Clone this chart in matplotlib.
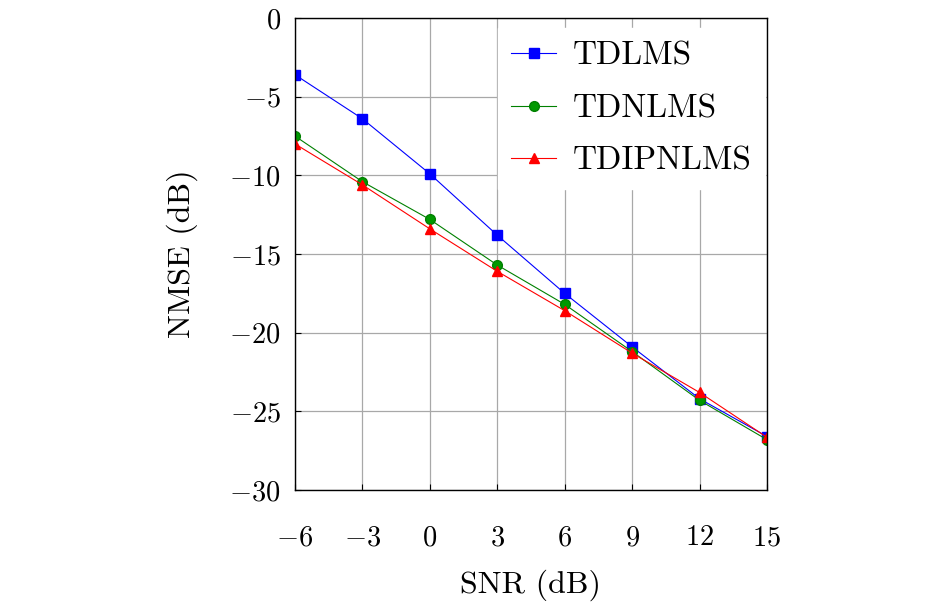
import matplotlib
matplotlib.use("Agg")
import matplotlib.pyplot as plt

snr = [-6, -3, 0, 3, 6, 9, 12, 15]
tdlms = [-3.6, -6.4, -9.9, -13.8, -17.5, -20.9, -24.2, -26.6]
tdnlms = [-7.5, -10.4, -12.8, -15.7, -18.2, -21.2, -24.3, -26.8]
tdipnlms = [-8.0, -10.6, -13.4, -16.1, -18.6, -21.3, -23.8, -26.65]
xticks = [-6, -3, 0, 3, 6, 9, 12, 15]
yticks = [0, -5, -10, -15, -20, -25, -30]

plt.rcParams['font.family'] = 'serif'
plt.rcParams['font.serif'] = ['cmr10']
plt.rcParams['mathtext.fontset'] = 'cm'
plt.rcParams['axes.formatter.use_mathtext'] = True
plt.rcParams['axes.unicode_minus'] = True

fig = plt.figure(figsize=(9.45, 6.03), dpi=100)
ax = fig.add_axes([0.312, 0.1874, 0.4996, 0.7828])

ax.plot(snr, tdlms, color='blue', marker='s', markersize=7, linewidth=0.8, label='TDLMS')
ax.plot(snr, tdnlms, color='green', marker='o', markersize=7, markerfacecolor=(0, 0.6, 0), markeredgecolor=(0, 0.5, 0), linewidth=0.8, label='TDNLMS')
ax.plot(snr, tdipnlms, color='red', marker='^', markersize=7, linewidth=0.8, label='TDIPNLMS')

ax.set_xlim(-6, 15)
ax.set_ylim(-30, 0)
ax.set_xticks(xticks)
ax.set_yticks(yticks)
ax.set_xticklabels([f'${v}$' for v in xticks])
ax.set_yticklabels([f'${v}$' for v in yticks])
ax.grid(True, color='#a8a8a8', linewidth=0.9)
ax.set_axisbelow(True)
ax.tick_params(direction='in', length=4, width=0.8, labelsize=20.5, color='black')
ax.tick_params(axis='x', pad=25)
ax.tick_params(axis='y', pad=10)
for s in ax.spines.values():
    s.set_linewidth(1.0)
    s.set_zorder(6)

ax.set_xlabel('SNR (dB)', fontsize=23, labelpad=13)
ax.set_ylabel('NMSE (dB)', fontsize=23, labelpad=23)

leg = ax.legend(loc='upper right', bbox_to_anchor=(0.995, 0.979), fontsize=24,
                frameon=True, fancybox=False,
                edgecolor='white', facecolor='white', framealpha=1.0,
                handlelength=1.35, handletextpad=0.48, borderpad=0.4, labelspacing=0.7,
                borderaxespad=0.0)

fig.savefig('out.png', dpi=100)
